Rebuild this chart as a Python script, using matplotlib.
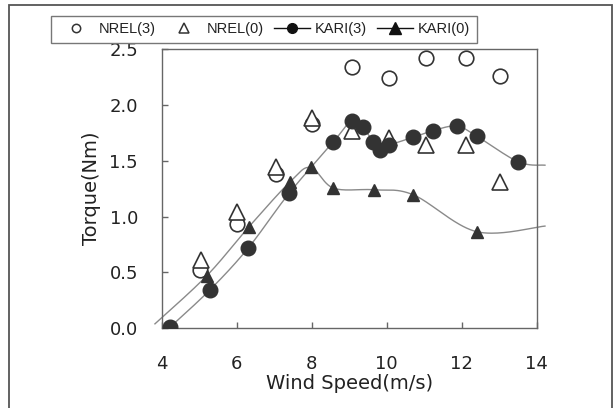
import matplotlib.pyplot as plt
import numpy as np
from matplotlib.lines import Line2D
from matplotlib.patches import Rectangle

# 풍속 (m/s) / 토크 (Nm)
nrel3_x = [5.02, 6.02, 7.05, 8.0, 9.07, 10.07, 11.05, 12.11, 13.02]
nrel3_y = [0.525, 0.93, 1.38, 1.83, 2.34, 2.24, 2.42, 2.42, 2.26]

nrel0_x = [5.04, 6.02, 7.05, 8.0, 9.07, 10.07, 11.05, 12.11, 13.02]
nrel0_y = [0.615, 1.04, 1.44, 1.88, 1.77, 1.70, 1.64, 1.64, 1.31]

kari3_x = [4.22, 5.29, 6.31, 7.40, 8.58, 9.07, 9.36, 9.64, 9.82, 10.07, 10.71, 11.24, 11.87, 12.40, 13.51]
kari3_y = [0.01, 0.345, 0.72, 1.21, 1.67, 1.86, 1.80, 1.67, 1.60, 1.64, 1.71, 1.77, 1.81, 1.72, 1.49]

kari0_x = [5.2, 6.33, 7.42, 7.97, 8.58, 9.66, 10.71, 12.40]
kari0_y = [0.47, 0.91, 1.31, 1.44, 1.255, 1.24, 1.195, 0.865]

# 추세선 양 끝
kari3_head = ([], [])
kari3_tail = ([14.22], [1.46])
kari0_head = ([3.82], [0.04])
kari0_tail = ([14.22], [0.915])

x_ticks = [4, 6, 8, 10, 12, 14]
y_ticks = [0.0, 0.5, 1.0, 1.5, 2.0, 2.5]


def smooth(xs, ys, n=40):
    # Excel 식 부드러운 선 (Catmull-Rom -> Bezier)
    p = np.column_stack([xs, ys]).astype(float)
    out = []
    t = np.linspace(0, 1, n)[:, None]
    for i in range(len(p) - 1):
        p0 = p[i - 1] if i > 0 else p[i]
        p1, p2 = p[i], p[i + 1]
        p3 = p[i + 2] if i + 2 < len(p) else p[i + 1]
        c1 = p1 + (p2 - p0) / 6
        c2 = p2 - (p3 - p1) / 6
        seg = ((1 - t) ** 3) * p1 + 3 * ((1 - t) ** 2) * t * c1 + 3 * (1 - t) * t ** 2 * c2 + t ** 3 * p2
        out.append(seg)
    out = np.vstack(out)
    return out[:, 0], out[:, 1]


plt.rcParams["font.family"] = ["DejaVu Sans"]
text_color = "#222222"
mark_color = "#333333"

fig = plt.figure(figsize=(6.16, 4.08), dpi=100)
ax = fig.add_axes([0.2625, 0.1953, 0.6088, 0.6846])

for (hx, hy), xs, ys, (tx, ty) in [
    (kari3_head, kari3_x, kari3_y, kari3_tail),
    (kari0_head, kari0_x, kari0_y, kari0_tail),
]:
    cx, cy = smooth(hx + xs + tx, hy + ys + ty)
    ax.plot(cx, cy, color="#8a8a8a", linewidth=1.0, clip_on=False, zorder=2)

ax.plot(nrel3_x, nrel3_y, "o", ms=10.5, mfc="white", mec=mark_color, mew=1.2, ls="none", zorder=3)
ax.plot(nrel0_x, nrel0_y, "^", ms=11, mfc="white", mec=mark_color, mew=1.2, ls="none", zorder=3)
ax.plot(kari3_x, kari3_y, "o", ms=10.5, color=mark_color, ls="none", zorder=4)
ax.plot(kari0_x, kari0_y, "^", ms=8.5, color=mark_color, ls="none", zorder=4)

ax.set_xlim(4, 14)
ax.set_ylim(0, 2.5)
ax.set_xticks(x_ticks)
ax.set_yticks(y_ticks)
ax.set_yticklabels([f"{v:.1f}" for v in y_ticks])
ax.tick_params(axis="x", direction="in", length=4.5, width=1, color="#666666",
               pad=19, labelsize=13, labelcolor=text_color)
ax.tick_params(axis="y", direction="in", length=4.5, width=1, color="#666666",
               pad=17, labelsize=13, labelcolor=text_color)
for s in ax.spines.values():
    s.set_color("#666666")
    s.set_linewidth(1.0)

ax.set_xlabel("Wind Speed(m/s)", fontsize=14, color=text_color, labelpad=1)
ax.set_ylabel("Torque(Nm)", fontsize=14, color=text_color, labelpad=6)

handles = [
    Line2D([], [], marker="o", ls="none", ms=6, mfc="white", mec=mark_color, mew=1.1),
    Line2D([], [], marker="^", ls="none", ms=7.5, mfc="white", mec=mark_color, mew=1.1),
    Line2D([], [], marker="o", ls="-", color="#111111", lw=1, ms=7),
    Line2D([], [], marker="^", ls="-", color="#111111", lw=1, ms=8),
]
labels = ["NREL(3)", "NREL(0)", "KARI(3)", "KARI(0)"]
leg = fig.legend(handles, labels, loc="center", bbox_to_anchor=(0.4286, 0.9277), ncol=4,
                 frameon=True, fancybox=False, edgecolor="#777777", framealpha=1,
                 prop={"family": "Liberation Sans", "size": 10.5},
                 handlelength=2.45, handletextpad=0.35, columnspacing=0.7,
                 borderpad=0.45, borderaxespad=0)
leg.get_frame().set_linewidth(1.0)
for t in leg.get_texts():
    t.set_color(text_color)

# 그림 바깥 테두리
fig.patches.append(Rectangle((9 / 616, -0.05), 603 / 616, 1.05 - 5 / 408, transform=fig.transFigure,
                             fill=False, edgecolor="#555555", linewidth=1.3))

fig.savefig("out.png", dpi=100)
